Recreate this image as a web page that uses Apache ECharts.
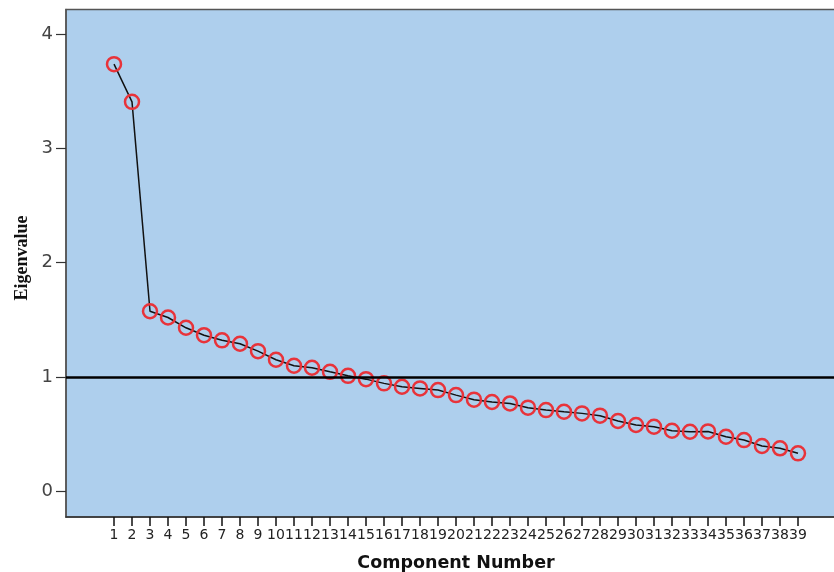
<!DOCTYPE html>
<html><head><meta charset="utf-8">
<script src="https://cdn.jsdelivr.net/npm/echarts@6/dist/echarts.min.js"></script>
<style>html,body{margin:0;padding:0;background:#fff;overflow:hidden}#c{width:860px;height:572px}</style>
</head><body><div id="c"></div>
<script>
const components = [1,2,3,4,5,6,7,8,9,10,11,12,13,14,15,16,17,18,19,20,21,22,23,24,25,26,27,28,29,30,31,32,33,34,35,36,37,38,39];
const eigenvalues = [3.74,3.41,1.575,1.52,1.43,1.365,1.32,1.29,1.225,1.15,1.097,1.08,1.044,1.009,0.98,0.943,0.913,0.899,0.884,0.84,0.80,0.78,0.767,0.73,0.709,0.694,0.68,0.66,0.613,0.578,0.563,0.528,0.519,0.522,0.475,0.446,0.394,0.374,0.33];
const yTicks = [0,1,2,3,4];
const refLine = 1;
const xTitle = 'Component Number';
const yTitle = 'Eigenvalue';

const chart = echarts.init(document.getElementById('c'));
chart.setOption({
  animation:false,
  grid:{left:66,top:9.5,width:780,height:507.5,show:true,containLabel:false,outerBoundsMode:'none',backgroundColor:'#aecfed',borderColor:'#555',borderWidth:1.5},
  xAxis:{type:'value',min:-1.667,max:41.667,
    axisLine:{show:true,onZero:false,lineStyle:{color:'#333',width:1.5}},
    axisTick:{show:true,inside:false,customValues:components,length:9,lineStyle:{color:'#111',width:1.5}},
    axisLabel:{customValues:components,color:'#222',fontSize:14,fontFamily:'DejaVu Sans',margin:11},
    splitLine:{show:false},
    name:xTitle,nameLocation:'middle',nameGap:37,
    nameTextStyle:{fontFamily:'DejaVu Sans',fontWeight:'bold',fontSize:17.5,color:'#111'}},
  yAxis:{type:'value',min:-0.228,max:4.219,
    axisLine:{show:true,onZero:false,lineStyle:{color:'#555',width:1.5}},
    axisTick:{show:true,inside:false,customValues:yTicks,length:10,lineStyle:{color:'#333',width:1.2}},
    axisLabel:{customValues:yTicks,color:'#444',fontSize:18,fontFamily:'DejaVu Sans',margin:13},
    splitLine:{show:false}},
  graphic:[{type:'text',x:22,y:258,rotation:Math.PI/2,style:{text:yTitle,font:'bold 18px "Liberation Serif"',fill:'#111',textAlign:'center',textVerticalAlign:'middle'}}],
  series:[{type:'line',data:components.map((c,i)=>[c,eigenvalues[i]]),
    lineStyle:{color:'#111',width:1.5},
    symbol:'circle',symbolSize:14,
    itemStyle:{color:'rgba(0,0,0,0)',borderColor:'#e8333a',borderWidth:2.5},
    markLine:{silent:true,symbol:'none',label:{show:false},lineStyle:{color:'#000',width:2.5,type:'solid'},data:[{yAxis:refLine}]}
  }]
});
</script></body></html>
